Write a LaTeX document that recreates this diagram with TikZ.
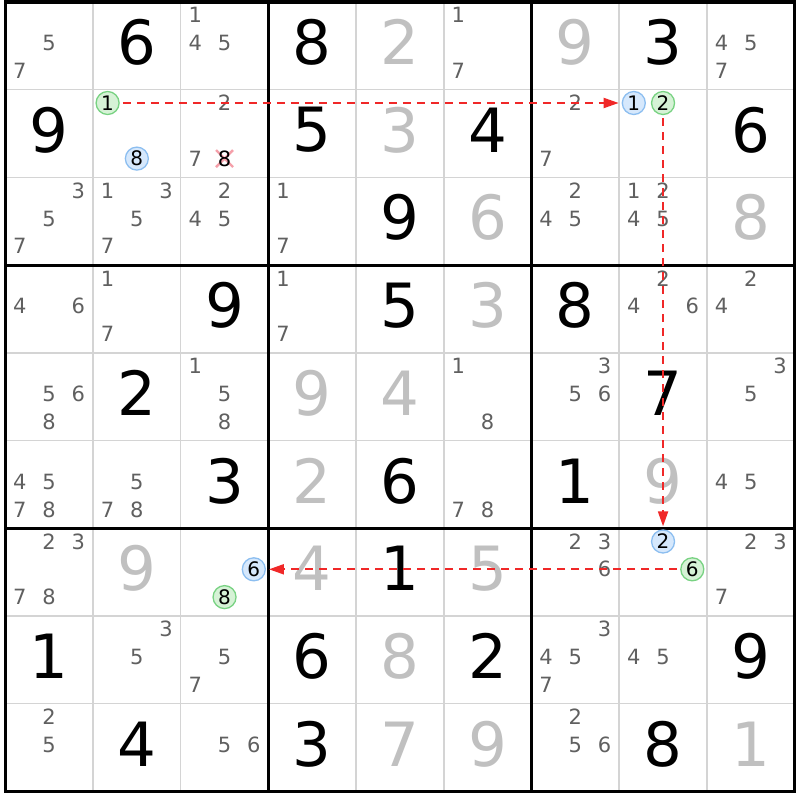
\documentclass[tikz,border=0pt]{standalone}
\usepackage{fontspec}
\setmainfont{DejaVu Sans}
\usetikzlibrary{arrows.meta}
\definecolor{solvedgray}{RGB}{192,192,192}
\definecolor{candgray}{RGB}{96,96,96}
\definecolor{thingrid}{RGB}{212,212,212}
\definecolor{bluefill}{RGB}{214,232,252}
\definecolor{blueline}{RGB}{140,190,240}
\definecolor{greenfill}{RGB}{214,242,214}
\definecolor{greenline}{RGB}{120,210,130}
\definecolor{linkred}{RGB}{240,40,40}
\definecolor{elimpink}{RGB}{245,160,170}
\pgfdeclarelayer{bg}
\pgfsetlayers{bg,main}
\tikzset{
  given/.style={inner sep=0pt, anchor=center, font=\fontsize{61}{61}\selectfont, text=black},
  solved/.style={given, text=solvedgray},
  cand/.style={inner sep=0pt, anchor=center, font=\fontsize{21}{21}\selectfont, text=candgray},
  bluecand/.style={circle, minimum size=23pt, inner sep=0pt, fill=bluefill, draw=blueline, line width=1.3pt, text=black, font=\fontsize{20}{20}\selectfont},
  greencand/.style={bluecand, fill=greenfill, draw=greenline},
  elimcand/.style={text=black},
  elimx/.style={draw=elimpink, line width=2.4pt},
  link/.style={draw=linkred, line width=2pt, dash pattern=on 8pt off 6pt, -{Triangle[length=15pt,width=10pt]}, shorten >=3pt, shorten <=3pt},
  thinline/.style={draw=thingrid, line width=1.5pt},
  thickline/.style={draw=black, line width=3pt},
  borderline/.style={draw=black, line width=3.5pt},
}
\newcommand\givenval[3]{\node[given] (g#1#2) at ({5.3+87.7*(#2+0.5)},{2+87.7*(#1+0.5)-3.5}) {#3};}
\newcommand\solvedval[3]{\node[solved] (g#1#2) at ({5.3+87.7*(#2+0.5)},{2+87.7*(#1+0.5)-3.5}) {#3};}
\newcommand\cand[4][]{\node[cand,#1] (c#2#3#4) at ({5.3+87.7*#3+14.6+29.25*mod(#4-1,3)},{2+87.7*#2+13.3+27.8*floor((#4-1)/3)}) {#4};}
\newcommand\cands[3]{\foreach \d in {#3}{\cand{#1}{#2}{\d}}}
\begin{document}
\begin{tikzpicture}[x=1pt,y=-1pt]
\useasboundingbox (0,0) rectangle (800,800);
% grid
\foreach \i in {1,2,4,5,7,8}{
  \draw[thinline] ({5.3+87.7*\i},2) -- ({5.3+87.7*\i},791.3);
  \draw[thinline] (5.3,{2+87.7*\i}) -- (794.6,{2+87.7*\i});
}
\foreach \i in {3,6}{
  \draw[thickline] ({5.3+87.7*\i},2) -- ({5.3+87.7*\i},791.3);
  \draw[thickline] (5.3,{2+87.7*\i}) -- (794.6,{2+87.7*\i});
}
\draw[borderline] (5.3,2) rectangle (794.6,791.3);
% row 0
\cands{0}{0}{5,7} \givenval{0}{1}{6} \cands{0}{2}{1,4,5} \givenval{0}{3}{8} \solvedval{0}{4}{2} \cands{0}{5}{1,7} \solvedval{0}{6}{9} \givenval{0}{7}{3} \cands{0}{8}{4,5,7}
% row 1
\givenval{1}{0}{9} \cand[greencand]{1}{1}{1} \cand[bluecand]{1}{1}{8} \cands{1}{2}{2,7} \cand[elimcand]{1}{2}{8} \givenval{1}{3}{5} \solvedval{1}{4}{3} \givenval{1}{5}{4} \cands{1}{6}{2,7} \cand[bluecand]{1}{7}{1} \cand[greencand]{1}{7}{2} \givenval{1}{8}{6}
% row 2
\cands{2}{0}{3,5,7} \cands{2}{1}{1,3,5,7} \cands{2}{2}{2,4,5} \cands{2}{3}{1,7} \givenval{2}{4}{9} \solvedval{2}{5}{6} \cands{2}{6}{2,4,5} \cands{2}{7}{1,2,4,5} \solvedval{2}{8}{8}
% row 3
\cands{3}{0}{4,6} \cands{3}{1}{1,7} \givenval{3}{2}{9} \cands{3}{3}{1,7} \givenval{3}{4}{5} \solvedval{3}{5}{3} \givenval{3}{6}{8} \cands{3}{7}{2,4,6} \cands{3}{8}{2,4}
% row 4
\cands{4}{0}{5,6,8} \givenval{4}{1}{2} \cands{4}{2}{1,5,8} \solvedval{4}{3}{9} \solvedval{4}{4}{4} \cands{4}{5}{1,8} \cands{4}{6}{3,5,6} \givenval{4}{7}{7} \cands{4}{8}{3,5}
% row 5
\cands{5}{0}{4,5,7,8} \cands{5}{1}{5,7,8} \givenval{5}{2}{3} \solvedval{5}{3}{2} \givenval{5}{4}{6} \cands{5}{5}{7,8} \givenval{5}{6}{1} \solvedval{5}{7}{9} \cands{5}{8}{4,5}
% row 6
\cands{6}{0}{2,3,7,8} \solvedval{6}{1}{9} \cand[bluecand]{6}{2}{6} \cand[greencand]{6}{2}{8} \solvedval{6}{3}{4} \givenval{6}{4}{1} \solvedval{6}{5}{5} \cands{6}{6}{2,3,6} \cand[bluecand]{6}{7}{2} \cand[greencand]{6}{7}{6} \cands{6}{8}{2,3,7}
% row 7
\givenval{7}{0}{1} \cands{7}{1}{3,5} \cands{7}{2}{5,7} \givenval{7}{3}{6} \solvedval{7}{4}{8} \givenval{7}{5}{2} \cands{7}{6}{3,4,5,7} \cands{7}{7}{4,5} \givenval{7}{8}{9}
% row 8
\cands{8}{0}{2,5} \givenval{8}{1}{4} \cands{8}{2}{5,6} \givenval{8}{3}{3} \solvedval{8}{4}{7} \solvedval{8}{5}{9} \cands{8}{6}{2,5,6} \givenval{8}{7}{8} \solvedval{8}{8}{1}
% background and elimination mark
\begin{pgfonlayer}{bg}
  \fill[white] (0,0) rectangle (800,800);
  \draw[elimx] ([shift={(-8.5,-8.5)}]c128.center) -- ([shift={(8.5,8.5)}]c128.center);
  \draw[elimx] ([shift={(-8.5,8.5)}]c128.center) -- ([shift={(8.5,-8.5)}]c128.center);
\end{pgfonlayer}
% links
\draw[link] (c111) -- (c171);
\draw[link] (c172) -- (c672);
\draw[link] (c676) -- (c626);
\end{tikzpicture}
\end{document}
